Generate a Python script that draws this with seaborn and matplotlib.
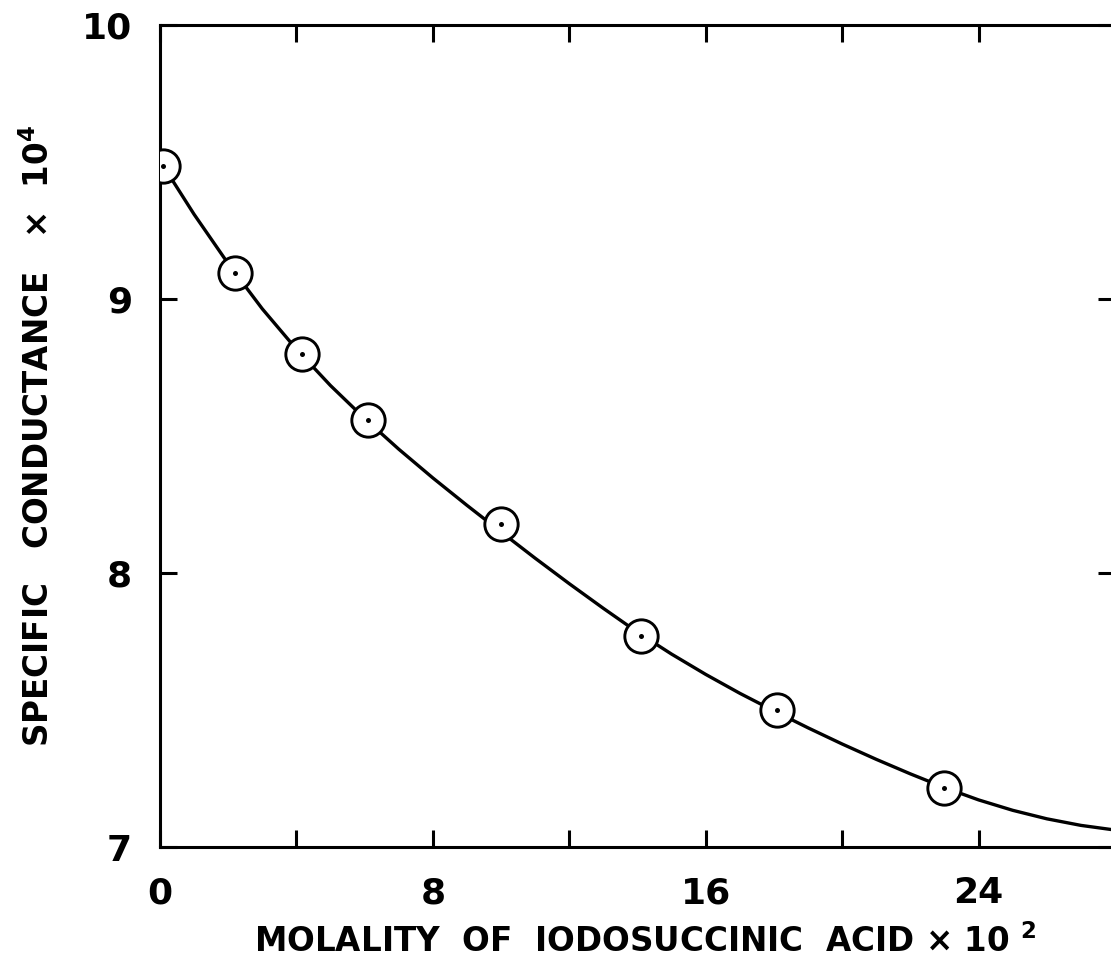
import matplotlib
matplotlib.use("Agg")
import matplotlib.pyplot as plt
import seaborn as sns
import pandas as pd

# Measured points: molality of iodosuccinic acid (x 10^2) vs specific conductance (x 10^4)
molality = [0.1, 2.2, 4.16, 6.1, 10.0, 14.1, 18.1, 23.0]
conductance = [9.485, 9.095, 8.80, 8.56, 8.18, 7.77, 7.50, 7.215]

# Hand-drawn smooth curve through the measurements
curve_molality = [0.1, 1, 2, 3, 4, 5, 6, 7, 8, 9, 10, 11, 12, 13, 14, 15,
                  16, 17, 18, 19, 20, 21, 22, 23, 24, 25, 26, 27, 28]
curve_conductance = [9.485, 9.309, 9.129, 8.964, 8.817, 8.684, 8.564, 8.452,
                     8.347, 8.247, 8.150, 8.054, 7.961, 7.871, 7.784, 7.704,
                     7.630, 7.561, 7.497, 7.435, 7.376, 7.320, 7.267, 7.217,
                     7.172, 7.134, 7.103, 7.079, 7.062]

x_ticks = [0, 4, 8, 12, 16, 20, 24, 28]
x_ticklabels = ["0", "", "8", "", "16", "", "24", ""]
y_ticks = [7, 8, 9, 10]
y_ticklabels = ["7", "8", "9", "10"]

points = pd.DataFrame({"molality": molality, "conductance": conductance})
curve = pd.DataFrame({"molality": curve_molality, "conductance": curve_conductance})

sns.set_style("ticks")
plt.rcParams["font.family"] = ["DejaVu Sans"]
plt.rcParams["mathtext.default"] = "bf"
plt.rcParams["text.color"] = "black"
plt.rcParams["axes.labelcolor"] = "black"
plt.rcParams["xtick.color"] = "black"
plt.rcParams["ytick.color"] = "black"

fig = plt.figure(figsize=(11.11, 9.61), dpi=100)
ax = fig.add_axes([0.144, 0.1186, 0.8596, 0.8554])

sns.lineplot(data=curve, x="molality", y="conductance", ax=ax, sort=False,
             color="black", lw=2.4, zorder=2)

# open circles with a centre dot
sns.scatterplot(data=points, x="molality", y="conductance", ax=ax,
                marker="o", s=24 ** 2, facecolor="white",
                edgecolor="black", linewidth=2.1, zorder=3)
sns.scatterplot(data=points, x="molality", y="conductance", ax=ax,
                marker="o", s=3.6 ** 2, color="black", linewidth=0, zorder=4)

ax.set_xlim(0, 28)
ax.set_ylim(7, 10)
ax.set_xticks(x_ticks)
ax.set_xticklabels(x_ticklabels, fontweight="bold")
ax.set_yticks(y_ticks)
ax.set_yticklabels(y_ticklabels, fontweight="bold")

for side in ["left", "right", "top", "bottom"]:
    ax.spines[side].set_visible(True)
    ax.spines[side].set_linewidth(2.2)
    ax.spines[side].set_color("black")

ax.tick_params(axis="both", which="major", direction="in", length=12,
               width=2.2, color="black", labelsize=26, top=True, right=True)
ax.tick_params(axis="x", pad=21)
ax.tick_params(axis="y", pad=20)

ax.set_xlabel("MOLALITY  OF  IODOSUCCINIC  ACID × 10 $^{2}$",
              fontsize=23.5, fontweight="bold")
ax.set_ylabel("SPECIFIC   CONDUCTANCE   ×  10$^{4}$",
              fontsize=23.5, fontweight="bold")
ax.xaxis.set_label_coords(0.508, -0.094)
ax.yaxis.set_label_coords(-0.109, 0.500)

fig.savefig("out.png", dpi=100, facecolor="white")
